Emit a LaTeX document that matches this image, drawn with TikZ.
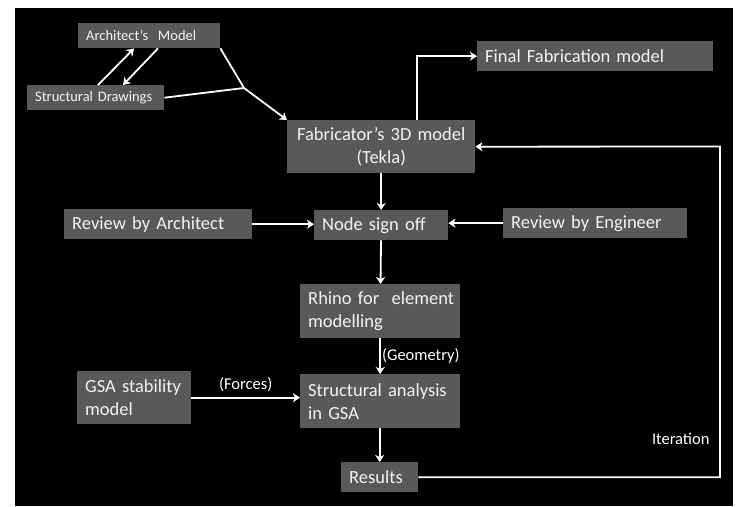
\documentclass[tikz,border=0pt]{standalone}
\usepackage{fontspec}
\setmainfont{Carlito}
\usetikzlibrary{arrows.meta}

\definecolor{boxgray}{RGB}{88,89,89}
\definecolor{boxtext}{RGB}{242,242,242}

\begin{document}
\begin{tikzpicture}[
    x=1pt, y=-1pt,
    box/.style={rectangle, fill=boxgray, text=boxtext, anchor=north west, inner xsep=8pt, inner ysep=2pt, align=left, font=\fontsize{18.5}{23}\selectfont},
    smallbox/.style={box, font=\fontsize{14.5}{17}\selectfont},
    note/.style={text=white, font=\fontsize{16.5}{19}\selectfont},
    arrow/.style={-{Stealth[length=7pt, width=9pt, inset=2pt]}, line width=1.8pt, white},
    link/.style={line width=1.8pt, white}
]

% Background
\fill[white] (0,0) rectangle (736,506);
\useasboundingbox (0,0) rectangle (736,506);
\fill[black] (15,8) rectangle (733,506);

% Design models
\node[smallbox, text width=126pt, minimum height=25pt] (archmodel) at (78,23) {Architect's~ Model};
\node[smallbox, text width=121pt, minimum height=25pt] (structdraw) at (27,85) {Structural Drawings};

% Fabrication
\node[box, text width=172pt, minimum height=53pt, align=center] (fabmodel) at (287,120) {Fabricator's 3D model\\(Tekla)};
\node[box, text width=220pt, minimum height=30pt] (finalmodel) at (477,41) {Final Fabrication model};

% Reviews
\node[box, text width=172pt, minimum height=30pt] (reviewarch) at (64,209) {Review by Architect};
\node[box, text width=118pt, minimum height=30pt] (signoff) at (314,210) {Node sign off};
\node[box, text width=168pt, minimum height=30pt] (revieweng) at (503,208) {Review by Engineer};

% Analysis
\node[box, text width=144pt, minimum height=54pt] (rhino) at (300,284) {\mbox{Rhino for\ \ element}\\modelling};
\node[box, text width=98pt, minimum height=53pt] (gsamodel) at (77,371) {GSA stability\\model};
\node[box, text width=144pt, minimum height=54pt] (analysis) at (300,374) {Structural analysis\\in GSA};
\node[box, text width=61pt, minimum height=30pt] (results) at (341,462) {Results};

\coordinate (merge) at (244,88);
\coordinate (turn) at (720,146.5);

% Arrows
\draw[arrow] ([xshift=71pt]structdraw.north west) -- ([xshift=56pt]archmodel.south west);
\draw[arrow] ([xshift=80pt]archmodel.south west) -- ([xshift=96pt]structdraw.north west);
\draw[link] (archmodel.south east) -- (merge);
\draw[link] (structdraw.east) -- (merge);
\draw[arrow] (merge) -- (fabmodel.north west);
\draw[arrow] ([xshift=130pt]fabmodel.north west) |- (finalmodel.west);
\draw[arrow] (fabmodel) -- (signoff);
\draw[arrow] (reviewarch.east) -- (reviewarch.east -| signoff.west);
\draw[arrow] (revieweng.west) -- (revieweng.west -| signoff.east);
\draw[arrow] (signoff) -- (rhino);
\draw[arrow] (rhino) -- node[note, right, inner sep=1pt] {(Geometry)} (analysis);
\draw[arrow] (gsamodel.east) -- node[note, above, yshift=2pt] {(Forces)} (gsamodel.east -| analysis.west);
\draw[arrow] (analysis.south -| results) -- (results);
\draw[arrow] (results.east) -| (turn) -- (fabmodel.east);
\node[note, anchor=east] (iteration) at (713,439) {Iteration};

\end{tikzpicture}
\end{document}
